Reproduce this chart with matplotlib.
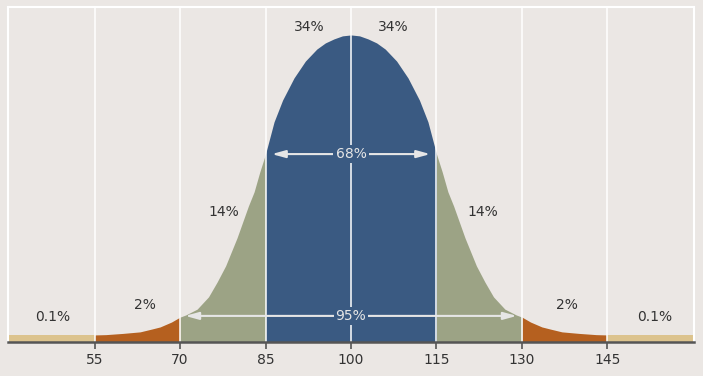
import matplotlib
matplotlib.use("Agg")
import matplotlib.pyplot as plt
import numpy as np

# Curve (relative height, peak = 1)
curve_x = [39, 45, 50, 55, 57, 60, 63, 65, 66.5, 68.5, 70, 71, 73, 75, 76.5, 78, 80, 82, 83, 84, 85,
           86.5, 88, 90, 92, 94, 95.5, 97, 98.5, 100, 101.5, 103, 104.5, 106, 108, 110, 112, 113.5,
           115, 116, 117, 118, 120, 122, 123.5, 125, 127, 129, 130, 131.5, 133.5, 135, 137, 140, 143, 145,
           150, 155, 161]
curve_y = [0.023, 0.023, 0.023, 0.023, 0.024, 0.028, 0.033, 0.042, 0.049, 0.065, 0.081, 0.088, 0.107, 0.147, 0.195, 0.248, 0.339, 0.443, 0.489, 0.554, 0.612,
           0.717, 0.788, 0.860, 0.915, 0.954, 0.974, 0.987, 0.997, 1.000, 0.997, 0.987, 0.974, 0.954, 0.915, 0.860, 0.788, 0.717,
           0.612, 0.554, 0.489, 0.443, 0.339, 0.248, 0.195, 0.147, 0.107, 0.088, 0.081, 0.065, 0.049, 0.042, 0.033, 0.028, 0.024, 0.023,
           0.023, 0.023, 0.023]

bands = [(39, 55), (55, 70), (70, 85), (85, 115), (115, 130), (130, 145), (145, 161)]
band_colors = ["#dcc38d", "#b5601f", "#9ca385", "#3a5a82", "#9ca385", "#b5601f", "#dcc38d"]

ticks = [55, 70, 85, 100, 115, 130, 145]
tick_labels = ["55", "70", "85", "100", "115", "130", "145"]

labels = ["34%", "34%", "14%", "14%", "2%", "2%", "0.1%", "0.1%"]
label_x = [92.6, 107.4, 77.7, 123.2, 63.9, 137.9, 47.7, 153.3]
label_y = [1.026, 1.026, 0.423, 0.423, 0.12, 0.12, 0.081, 0.081]

arrow_labels = ["68%", "95%"]
arrow_left = [86.1, 70.9]
arrow_right = [113.9, 129.1]
arrow_y = [0.612, 0.085]

bg = "#ebe7e4"
fig = plt.figure(figsize=(7.03, 3.76), dpi=100, facecolor=bg)
ax = fig.add_axes([8 / 703, 34 / 376, 686 / 703, 335 / 376])
ax.set_facecolor(bg)

cx = np.array(curve_x, dtype=float)
cy = np.array(curve_y, dtype=float)
for (a, b), c in zip(bands, band_colors):
    m = (cx >= a) & (cx <= b)
    ax.fill_between(cx[m], 0, cy[m], color=c, lw=0, zorder=1)

for t in ticks:
    ax.axvline(t, color="white", lw=1.1, zorder=2)

for s, x, y in zip(labels, label_x, label_y):
    ax.text(x, y, s, ha="center", va="center", fontsize=10, color="#333333", zorder=5)

acol = "#e6e6e6"
for s, l, r, y in zip(arrow_labels, arrow_left, arrow_right, arrow_y):
    for end in (l, r):
        ax.annotate("", xy=(end, y), xytext=(100, y),
                    arrowprops=dict(arrowstyle="-|>,head_length=0.8,head_width=0.22",
                                    color=acol, lw=1.5, shrinkA=0, shrinkB=0),
                    zorder=3)
    ax.text(100, y, s, ha="center", va="center", fontsize=10, color=acol, zorder=6,
            bbox=dict(boxstyle="square,pad=0.15", fc="#3a5a82", ec="none"))

ax.set_xlim(39.82, 160.18)
ax.set_ylim(0, 1.091)
ax.set_yticks([])
ax.set_xticks(ticks)
ax.set_xticklabels(tick_labels, fontsize=10, color="#333333")
ax.tick_params(axis="x", length=5, width=1.2, color="#555555", pad=3)
for side in ("left", "right", "top"):
    ax.spines[side].set_color("white")
    ax.spines[side].set_linewidth(1.5)
ax.spines["bottom"].set_color("#555555")
ax.spines["bottom"].set_linewidth(1.8)
ax.spines["bottom"].set_zorder(4)

fig.savefig("out.png", dpi=100, facecolor=bg)
